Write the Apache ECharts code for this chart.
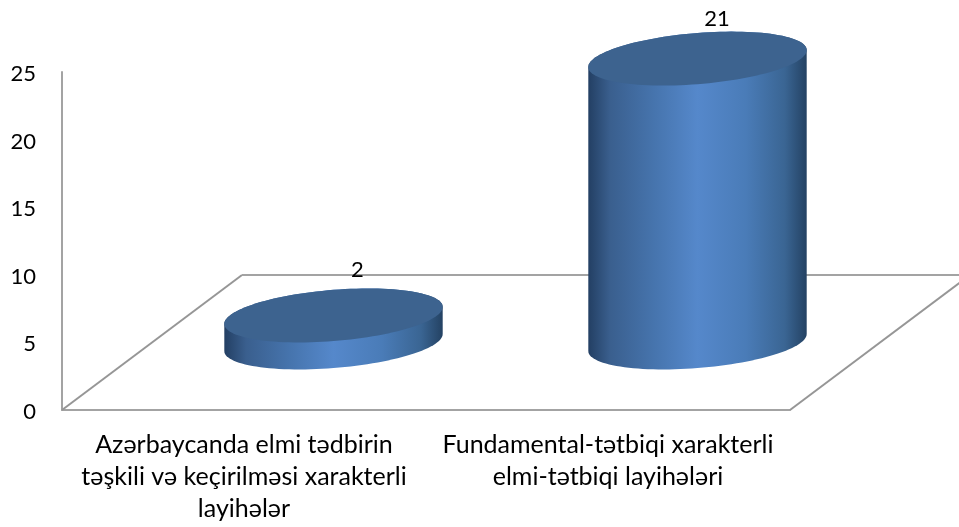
<!DOCTYPE html>
<html>
<head>
<meta charset="utf-8">
<style>html,body{margin:0;padding:0;background:#fff}#echart{width:959px;height:527px}</style>
<script src="https://cdn.jsdelivr.net/npm/echarts@6/dist/echarts.min.js"></script>
</head>
<body>
<div id="echart"></div>
<script>
var categories = [
    'Azərbaycanda elmi tədbirin\ntəşkili və keçirilməsi xarakterli\nlayihələr',
    'Fundamental-tətbiqi xarakterli\nelmi-tətbiqi layihələri'
];
var values = [2, 21];

var myChart = echarts.init(document.getElementById('echart'));

// floor depth of the fake 3D box
var depthX = 180, depthY = 135;
var axisGrey = '#a3a3a3';
var diagonalGrey = '#969696';
var fontName = 'Lato';

function drawFloor(params, api) {
    var c = params.coordSys;
    var bottom = c.y + c.height, right = c.x + c.width;
    var line = function (x1, y1, x2, y2, color) {
        return {
            type: 'line',
            shape: { x1: x1, y1: y1, x2: x2, y2: y2 },
            style: { stroke: color, lineWidth: 2 }
        };
    };
    return {
        type: 'group',
        children: [
            line(c.x, bottom, c.x + depthX, bottom - depthY, diagonalGrey),
            line(c.x + depthX, bottom - depthY, right + depthX, bottom - depthY, axisGrey),
            line(right, bottom, right + depthX, bottom - depthY, diagonalGrey)
        ]
    };
}

// sheared ellipse point, t in radians
function rim(cx, cy, a, b, s, t) {
    return [cx + a * Math.cos(t), cy - s * Math.cos(t) - b * Math.sin(t)];
}

function drawCylinder(params, api) {
    var base = api.coord([api.value(0), 0]);
    var top = api.coord([api.value(0), api.value(1)]);
    var cx = base[0] + depthX / 2 - 0.5;
    var baseY = base[1] - depthY / 2;
    var topY = top[1] - depthY / 2;
    var a = api.size([1, 0])[0] * 0.3;
    var b = 25.6, s = 8.5, n = 120;
    var cap = [], body = [], i, t;
    for (i = 0; i < n; i++) {
        cap.push(rim(cx, topY, a, b, s, i / n * Math.PI * 2));
    }
    // body outline: down the left edge, along the front of the base, up the right edge
    for (i = 0; i <= n / 2; i++) {
        t = Math.PI + i / (n / 2) * Math.PI;
        body.push(rim(cx, baseY, a, b, s, t));
    }
    for (i = 0; i <= n / 2; i++) {
        t = i / (n / 2) * Math.PI;
        body.push(rim(cx, topY, a, b, s, t));
    }
    // the label positions differ a little per bar in the original
    var nudge = params.dataIndex === 0 ? [24, -46] : [19.5, -40];
    return {
        type: 'group',
        children: [
            {
                type: 'polygon',
                shape: { points: body },
                style: {
                    fill: new echarts.graphic.LinearGradient(0, 0, 1, 0, [
                        { offset: 0, color: '#233f63' },
                        { offset: 0.1, color: '#3a5f8e' },
                        { offset: 0.3, color: '#4674ad' },
                        { offset: 0.5, color: '#5588cb' },
                        { offset: 0.72, color: '#4a7cb8' },
                        { offset: 0.9, color: '#3a6593' },
                        { offset: 1, color: '#244263' }
                    ])
                }
            },
            {
                type: 'polygon',
                shape: { points: cap },
                style: { fill: '#3d638f' }
            },
            {
                type: 'text',
                style: {
                    text: String(api.value(1)),
                    x: cx + nudge[0],
                    y: topY + nudge[1],
                    align: 'center',
                    verticalAlign: 'middle',
                    fill: '#000',
                    font: '22px ' + fontName
                }
            }
        ]
    };
}

option = {
    animation: false,
    grid: {
        left: 62,
        top: 72,
        width: 728,
        height: 338
    },
    xAxis: {
        type: 'category',
        data: categories,
        axisLine: { lineStyle: { color: axisGrey, width: 2 } },
        axisTick: { show: false },
        axisLabel: {
            interval: 0,
            color: '#000',
            fontFamily: fontName,
            fontSize: 25,
            lineHeight: 32,
            margin: 19
        }
    },
    yAxis: {
        type: 'value',
        min: 0,
        max: 25,
        interval: 5,
        splitLine: { show: false },
        axisLine: { show: true, lineStyle: { color: axisGrey, width: 2 } },
        axisTick: { show: false },
        axisLabel: {
            margin: 26,
            formatter: '{v|{value}}',
            rich: {
                v: {
                    color: '#000',
                    fontFamily: fontName,
                    fontSize: 22,
                    padding: [4, 0, 0, 0]
                }
            }
        }
    },
    series: [
        {
            type: 'custom',
            silent: true,
            z: 1,
            renderItem: drawFloor,
            data: [0]
        },
        {
            type: 'custom',
            z: 2,
            renderItem: drawCylinder,
            encode: { x: 0, y: 1 },
            data: values.map(function (v, i) { return [i, v]; })
        }
    ]
};
myChart.setOption(option);
</script>
</body>
</html>
